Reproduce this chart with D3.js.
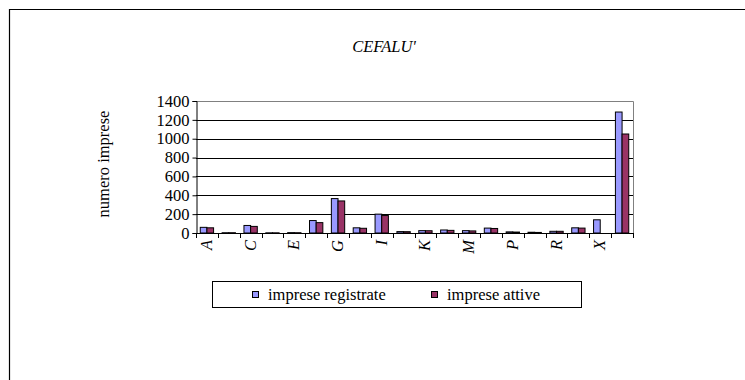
<!DOCTYPE html>
<html>
<head>
<meta charset="utf-8">
<script src="https://cdn.jsdelivr.net/npm/d3@7"></script>
<style>
  html, body { margin: 0; padding: 0; background: #fff; }
  svg { display: block; }
  svg text { font-family: "Liberation Serif", "Times New Roman", serif !important; fill: #000; }
</style>
</head>
<body>
<svg id="chart" width="745" height="380"></svg>
<script>
const title = "CEFALU'";
const yAxisTitle = "numero imprese";
const categories = ["A","B","C","D","E","F","G","H","I","J","K","L","M","N","P","Q","R","S","X","TOT"];
const seriesNames = ["imprese registrate", "imprese attive"];
const registrate = [60, 3, 80, 2, 4, 132, 365, 55, 200, 15, 25, 32, 25, 52, 12, 8, 18, 55, 140, 1283];
const attive =     [55, 3, 70, 2, 3, 110, 340, 50, 185, 14, 24, 28, 22, 48, 10, 6, 18, 52, 0, 1050];
const yTicks = [0, 200, 400, 600, 800, 1000, 1200, 1400];
const colors = ["#9999FF", "#993366"];

const FONT = "'Liberation Serif', 'Times New Roman', serif";
const svg = d3.select("#chart");

// outer frame (left and top edges visible)
svg.append("path")
  .attr("d", "M9.5,380 L9.5,9.5 L745,9.5")
  .attr("fill", "none").attr("stroke", "#000").attr("stroke-width", 1.2);

const plot = { left: 196, right: 633, top: 101, bottom: 233 };

const x = d3.scaleBand().domain(categories)
  .range([plot.left, plot.right]).paddingInner(0.39).paddingOuter(0.195);
const xSub = d3.scaleBand().domain(seriesNames).range([0, x.bandwidth()]);
const y = d3.scaleLinear().domain([0, 1400]).range([plot.bottom, plot.top]);

// gridlines
svg.append("g").selectAll("line").data(yTicks.filter(d => d > 0 && d < 1400)).join("line")
  .attr("x1", plot.left).attr("x2", plot.right)
  .attr("y1", d => Math.round(y(d)) + 0.5).attr("y2", d => Math.round(y(d)) + 0.5)
  .attr("stroke", "#000").attr("stroke-width", 1);

// plot border top & right (gray)
svg.append("path")
  .attr("d", `M${plot.left},${plot.top + 0.5} L${plot.right + 0.5},${plot.top + 0.5} L${plot.right + 0.5},${plot.bottom}`)
  .attr("fill", "none").attr("stroke", "#808080").attr("stroke-width", 1);

// bars
const data = categories.map((c, i) => ({ cat: c, vals: [registrate[i], attive[i]] }));
const groups = svg.append("g").selectAll("g").data(data).join("g")
  .attr("transform", d => `translate(${x(d.cat)},0)`);
groups.selectAll("rect")
  .data(d => d.vals.map((v, j) => ({ v, s: seriesNames[j], j })).filter(e => e.v > 0))
  .join("rect")
  .attr("x", e => xSub(e.s))
  .attr("width", xSub.bandwidth())
  .attr("y", e => y(e.v))
  .attr("height", e => y(0) - y(e.v))
  .attr("fill", e => colors[e.j])
  .attr("stroke", "#000").attr("stroke-width", 1);

// y axis
const yAxis = d3.axisLeft(y).tickValues(yTicks).tickSize(4).tickPadding(3).tickFormat(d3.format("d"));
const yg = svg.append("g").attr("transform", `translate(${plot.left + 0.5},0)`).call(yAxis);
yg.attr("font-family", null).attr("font-size", null);
yg.select(".domain").attr("stroke", "#000");
yg.selectAll(".tick line").attr("stroke", "#000");
yg.selectAll(".tick text").style("font-family", FONT).style("font-size", "16.5px").attr("fill", "#000");

// x axis: ticks at category boundaries
const step = x.step();
const boundaries = d3.range(categories.length + 1).map(i => plot.left + i * step);
const xg = svg.append("g");
xg.append("line").attr("x1", plot.left).attr("x2", plot.right + 1)
  .attr("y1", plot.bottom + 0.5).attr("y2", plot.bottom + 0.5).attr("stroke", "#000");
xg.selectAll("line.tk").data(boundaries).join("line").attr("class", "tk")
  .attr("x1", d => Math.round(d) + 0.5).attr("x2", d => Math.round(d) + 0.5)
  .attr("y1", plot.bottom).attr("y2", plot.bottom + 5).attr("stroke", "#000");
xg.selectAll("text").data(categories.filter((c, i) => i % 2 === 0)).join("text")
  .attr("transform", d => `translate(${x(d) + x.bandwidth() / 2 + 5},${plot.bottom + 7}) rotate(-90)`)
  .attr("text-anchor", "end")
  .style("font-family", FONT).style("font-size", "16.5px").style("font-style", "italic").text(d => d);

// y axis title
svg.append("text")
  .attr("transform", `translate(109,${(plot.top + plot.bottom) / 2 - 3}) rotate(-90)`)
  .attr("text-anchor", "middle").style("font-family", FONT).style("font-size", "16.5px").text(yAxisTitle);

// title
svg.append("text").attr("x", 384).attr("y", 52).attr("text-anchor", "middle")
  .style("font-family", FONT).style("font-size", "16.5px").style("font-style", "italic").text(title);

// legend
const lg = svg.append("g");
lg.append("rect").attr("x", 212.5).attr("y", 281.5).attr("width", 369).attr("height", 26)
  .attr("fill", "#fff").attr("stroke", "#000").attr("stroke-width", 1);
const legendX = [252, 431];
seriesNames.forEach((s, i) => {
  lg.append("rect").attr("x", legendX[i] + 0.5).attr("y", 291.5).attr("width", 6).attr("height", 6)
    .attr("fill", colors[i]).attr("stroke", "#000");
  lg.append("text").attr("x", legendX[i] + 16).attr("y", 300)
    .style("font-family", FONT).style("font-size", "16.5px").text(s);
});
</script>
</body>
</html>
